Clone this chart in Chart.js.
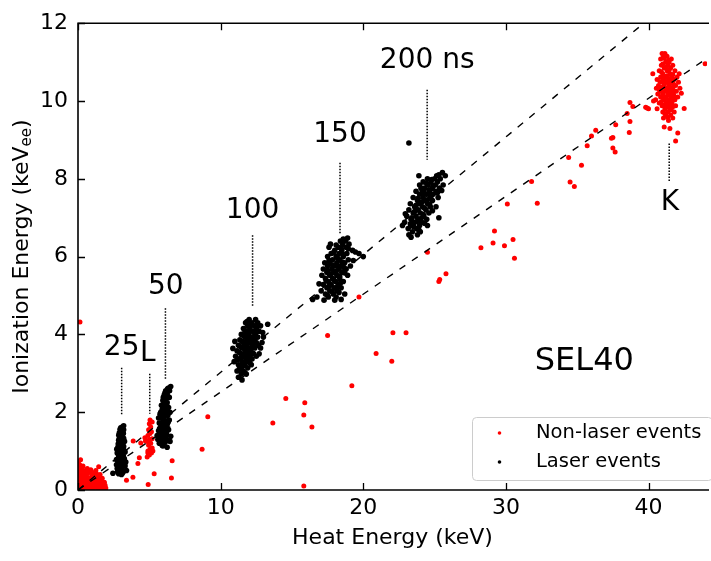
<!DOCTYPE html>
<html>
<head>
<meta charset="utf-8">
<title>SEL40 heat vs ionization</title>
<script src="https://cdn.jsdelivr.net/npm/chart.js@4.4.1/dist/chart.umd.min.js"></script>
<style>
    html, body { margin: 0; padding: 0; background: #fff; }
    #chart { display: block; }
</style>
</head>
<body>
<canvas id="chart" width="711" height="561"></canvas>
<script>
// ===== Data (keV heat, keVee ionization) =====
const xTicks = [0, 10, 20, 30, 40];
const yTicks = [0, 2, 4, 6, 8, 10, 12];

// laser pulses, one cluster per pulse length
const laser25 = [[2.85,0.42],[3.05,0.40],[2.95,0.50],[3.2,0.48],[2.75,0.55],[3.1,0.58],[2.9,0.62],[3.3,0.62],[2.8,0.68],[3.0,0.70],
    [3.15,0.72],[2.7,0.78],[2.95,0.80],[3.25,0.80],[3.05,0.85],[2.85,0.88],[3.15,0.92],[2.75,0.95],[3.0,0.97],[3.3,0.98],
    [2.9,1.03],[3.1,1.05],[2.8,1.10],[3.2,1.12],[3.0,1.15],[2.9,1.20],[3.1,1.22],[2.85,1.28],[3.05,1.30],[3.2,1.33],
    [2.95,1.38],[3.1,1.42],[2.9,1.47],[3.05,1.52],[3.2,1.55],[3.0,1.60],[3.2,1.65],[2.45,0.43],[3.4,0.50],[3.0,0.88],
    [2.92,0.74],[3.08,1.0],[2.98,1.25],[3.12,0.65],[2.88,1.15],[3.02,0.55],[3.18,1.45],[2.82,1.0],[3.22,1.02],
    [2.78,0.47],[3.12,0.44],[2.98,0.60],[3.22,0.68],[2.86,0.76],[3.08,0.78],[2.92,0.92],[3.18,0.86],[2.72,1.05],
    [2.96,1.09],[3.14,1.17],[2.82,1.18],[3.02,1.36],[2.86,1.41],[3.12,1.5],[2.95,1.56],[3.1,1.62],[3.26,1.25],
    [2.7,0.65],[3.35,0.72],[3.02,0.46],[2.9,1.32]];
const laser50 = [[5.7,1.2],[5.9,1.15],[6.1,1.22],[5.6,1.3],[5.85,1.32],[6.05,1.35],[6.3,1.28],[5.75,1.42],[5.95,1.45],[6.2,1.45],
    [5.65,1.52],[5.9,1.55],[6.1,1.58],[6.35,1.55],[5.8,1.62],[6.0,1.67],[6.25,1.68],[5.7,1.72],[5.95,1.76],[6.15,1.78],
    [6.4,1.8],[5.85,1.85],[6.05,1.88],[6.3,1.92],[5.75,1.95],[6.0,1.98],[6.2,2.02],[5.9,2.06],[6.1,2.1],[6.35,2.12],
    [5.85,2.18],[6.05,2.22],[6.25,2.25],[5.95,2.3],[6.15,2.35],[6.4,2.38],[6.05,2.45],[6.25,2.48],[6.15,2.55],[6.35,2.62],
    [6.5,2.66],[5.95,1.13],[6.25,1.1],[6.45,1.25],[6.5,1.38],[5.55,1.4],
    [5.8,1.25],[6.02,1.28],[6.18,1.38],[5.72,1.58],[6.0,1.5],[6.22,1.6],[5.88,1.7],[6.1,1.72],[6.32,1.74],[5.92,1.92],
    [6.15,1.95],[5.8,2.0],[6.02,2.15],[6.22,2.18],[5.98,2.38],[6.3,2.4],[6.1,2.5],[6.42,2.55],[6.28,2.6],[5.65,1.85],
    [6.45,2.0],[5.85,1.45]];
const laser100 = [[12.0,4.38],[12.45,4.38],[11.75,4.3],[12.2,4.3],[12.6,4.3],[11.9,4.22],[12.35,4.22],[12.8,4.22],[13.3,4.26],
    [11.6,4.15],[12.05,4.15],[12.5,4.15],[11.8,4.08],[12.25,4.08],[12.7,4.08],[11.45,4.0],[11.95,4.0],[12.4,4.0],
    [11.7,3.93],[12.15,3.93],[12.6,3.93],[13.0,3.93],[11.35,3.86],[11.85,3.86],[12.3,3.86],[11.6,3.79],[12.05,3.79],
    [12.5,3.79],[12.9,3.79],[11.25,3.72],[11.75,3.72],[12.2,3.72],[11.5,3.65],[11.95,3.65],[12.4,3.65],[12.8,3.65],
    [10.86,3.64],[11.15,3.58],[11.7,3.58],[12.1,3.58],[11.4,3.51],[11.85,3.51],[12.3,3.51],[11.05,3.44],[11.6,3.44],
    [12.05,3.44],[12.5,3.44],[11.3,3.37],[11.8,3.37],[12.2,3.37],[10.95,3.3],[11.5,3.3],[11.95,3.3],[11.25,3.22],
    [11.7,3.22],[12.15,3.22],[11.4,3.14],[11.9,3.14],[11.15,3.06],[11.6,3.06],[11.45,2.98],[11.8,2.98],[11.25,2.9],[11.5,2.83],
    [11.85,4.33],[12.15,4.26],[12.55,4.2],[11.7,4.1],[12.0,4.05],[12.45,4.02],[11.6,3.97],[11.95,3.89],[12.4,3.9],
    [11.5,3.82],[11.85,3.76],[12.3,3.75],[11.4,3.68],[11.75,3.62],[12.15,3.63],[11.3,3.54],[11.65,3.49],[12.0,3.5],
    [11.45,3.4],[11.95,3.41],[11.15,3.34],[11.65,3.28],[12.05,3.27],[11.55,3.18],[11.3,3.1],[11.7,3.02],[12.65,3.72],
    [12.7,3.5],[11.0,3.82],[12.95,4.05]];
const laser150 = [[18.9,6.48],[18.4,6.4],[18.75,6.4],[17.7,6.32],[18.55,6.32],[19.0,6.32],[17.6,6.24],[18.25,6.24],[18.8,6.24],
    [18.0,6.16],[18.5,6.16],[19.25,6.16],[17.75,6.08],[18.3,6.08],[18.85,6.08],[19.7,6.08],[17.5,6.0],[18.1,6.0],[18.6,6.0],
    [20.0,6.0],[17.85,5.92],[18.35,5.92],[18.95,5.92],[17.3,5.84],[17.65,5.84],[18.15,5.84],[18.7,5.84],[17.5,5.76],
    [18.0,5.76],[18.45,5.76],[19.1,5.76],[17.2,5.68],[17.8,5.68],[18.3,5.68],[18.8,5.68],[17.45,5.6],[17.95,5.6],[18.5,5.6],
    [17.1,5.52],[17.65,5.52],[18.15,5.52],[18.9,5.52],[17.35,5.44],[17.85,5.44],[18.35,5.44],[17.55,5.36],[18.05,5.36],
    [18.6,5.36],[17.2,5.28],[17.75,5.28],[18.25,5.28],[17.45,5.2],[17.95,5.2],[18.45,5.2],[17.05,5.12],[17.65,5.12],
    [18.15,5.12],[17.35,5.04],[17.9,5.04],[18.7,5.04],[16.75,4.96],[17.55,4.96],[18.1,4.96],[16.45,4.9],[17.25,4.88],[18.45,4.9],
    [18.6,6.45],[18.1,6.3],[18.45,6.22],[18.95,6.2],[17.9,6.1],[18.6,6.05],[18.2,5.96],[17.6,5.9],[18.5,5.86],[17.85,5.78],
    [18.25,5.74],[18.65,5.72],[17.5,5.64],[18.1,5.62],[18.7,5.58],[17.75,5.56],[18.35,5.5],[17.4,5.38],[17.95,5.4],
    [18.4,5.32],[17.6,5.24],[18.15,5.22],[17.8,5.1],[17.5,5.0],[18.3,5.08],[19.45,6.12],[19.3,5.9],[16.9,5.3],[18.0,4.88]];
const laser200 = [[25.55,8.16],[23.9,8.08],[25.15,8.08],[25.75,8.08],[24.5,8.0],[25.0,8.0],[25.4,8.0],[24.2,7.92],[24.75,7.92],
    [25.2,7.92],[23.95,7.84],[24.55,7.84],[25.05,7.84],[25.6,7.84],[24.3,7.76],[24.85,7.76],[25.35,7.76],[23.7,7.68],
    [24.15,7.68],[24.65,7.68],[25.1,7.68],[23.95,7.6],[24.45,7.6],[24.9,7.6],[23.5,7.52],[24.2,7.52],[24.7,7.52],[25.25,7.52],
    [23.8,7.44],[24.35,7.44],[24.85,7.44],[23.3,7.36],[23.95,7.36],[24.5,7.36],[23.6,7.28],[24.15,7.28],[24.7,7.28],
    [25.1,7.28],[23.2,7.2],[23.85,7.2],[24.4,7.2],[23.5,7.12],[24.0,7.12],[24.6,7.12],[23.05,7.04],[23.7,7.04],[24.25,7.04],
    [25.3,7.0],[23.35,6.96],[23.9,6.96],[24.45,6.96],[22.9,6.88],[23.6,6.88],[24.1,6.88],[22.75,6.8],[23.4,6.8],[23.95,6.8],
    [24.5,6.8],[23.15,6.72],[23.75,6.72],[23.45,6.64],[24.0,6.64],[23.2,6.56],[23.8,6.56],[23.35,6.5],
    [25.3,8.1],[24.8,7.98],[24.45,7.88],[24.9,7.82],[24.05,7.76],[24.6,7.72],[25.2,7.64],[24.3,7.62],[24.75,7.56],
    [23.85,7.5],[24.5,7.46],[24.1,7.4],[24.65,7.34],[23.7,7.32],[24.3,7.24],[24.85,7.18],[23.6,7.16],[24.2,7.08],
    [23.4,7.0],[24.05,6.98],[23.75,6.9],[23.3,6.84],[24.3,6.86],[23.55,6.76],[23.9,6.68],[25.5,7.7],[22.95,7.1]];
const laserStray = [[23.2,8.92]];

// everything that is not a laser pulse
const nonLaserLow = [[0.05,0.02],[0.1,0.15],[0.15,0.3],[0.2,0.05],[0.25,0.45],[0.3,0.2],[0.35,0.1],[0.4,0.35],[0.45,0.05],
    [0.5,0.25],[0.55,0.12],[0.6,0.4],[0.65,0.2],[0.7,0.03],[0.75,0.3],[0.8,0.15],[0.85,0.22],[0.9,0.08],[0.95,0.35],
    [1.0,0.18],[1.05,0.28],[1.1,0.06],[1.15,0.2],[1.2,0.38],[1.25,0.12],[1.3,0.25],[1.35,0.05],[1.4,0.18],[1.45,0.3],
    [1.5,0.1],[1.55,0.22],[1.6,0.04],[1.7,0.15],[1.8,0.08],[1.9,0.12],[0.08,0.55],[0.12,0.65],[0.18,0.78],[0.22,0.6],
    [0.3,0.52],[0.1,0.4],[0.05,0.25],[0.15,0.1],[0.28,0.32],[0.38,0.18],[0.48,0.4],[0.58,0.08],[0.68,0.32],[0.78,0.45],
    [0.9,0.52],[1.02,0.42],[1.25,0.5],[1.45,0.6],[0.2,0.22],[0.42,0.25],[0.62,0.15],[0.88,0.3],[1.12,0.32],[1.35,0.35],
    [0.35,0.62],[0.02,0.7],[0.5,0.48],
    [0.12,0.05],[0.3,0.08],[0.45,0.18],[0.55,0.32],[0.72,0.1],[0.82,0.05],[0.95,0.22],[1.08,0.14],[1.18,0.08],[1.28,0.2],
    [1.42,0.08],[1.52,0.16],[1.62,0.25],[1.75,0.05],[1.85,0.2],[1.95,0.05],[0.25,0.12],[0.4,0.5],[0.6,0.25],[0.7,0.45],
    [1.0,0.05],[1.15,0.45],[1.3,0.42],[0.2,0.38],[0.08,0.32],[0.05,0.48],[0.14,0.58],[0.65,0.55],[1.55,0.4],[1.7,0.3]];
const nonLaserL = [[4.85,0.85],[5.0,0.9],[5.15,0.95],[4.9,1.0],[5.05,1.05],[5.2,1.08],[4.95,1.15],[5.1,1.2],[4.85,1.25],
    [5.0,1.3],[5.2,1.32],[4.9,1.4],[5.05,1.45],[5.15,1.5],[4.95,1.55],[5.1,1.62],[5.0,1.7],[5.2,1.75],[5.05,1.8],[4.9,0.95],
    [5.25,1.0],[3.87,1.26],[4.4,1.21],[4.69,1.34],[4.3,0.83],[4.2,0.68],[3.4,0.25],[3.85,0.33],[4.92,0.14],[5.34,0.42],
    [6.55,0.31],[6.6,0.75],[4.73,1.26]];
const nonLaserScatter = [[0.14,4.32],[8.7,1.05],[9.1,1.88],[13.66,1.72],[14.57,2.35],[15.9,2.24],[15.83,1.93],[16.4,1.62],
    [15.83,0.1],[17.5,3.97],[19.2,2.68],[19.7,4.96],[20.9,3.51],[22.0,3.31],[22.08,4.04],[23.0,4.04],[24.5,6.11],
    [25.3,5.36],[25.36,5.41],[25.8,5.56],[28.25,6.23],[29.1,6.35],[29.2,6.66],[29.9,6.28],[30.5,6.44],[30.6,5.96],
    [30.1,7.35],[31.8,7.93],[32.2,7.37],[34.4,8.55],[34.5,7.92],[34.8,7.8],[35.3,8.35],[35.7,8.85],[36.0,9.1],[36.3,9.25],
    [38.7,9.96],[38.9,9.86],[38.5,9.68],[38.7,9.47],[37.7,9.39],[37.4,9.04],[37.5,9.06],[37.5,8.79],[37.66,8.69],
    [38.65,9.19],[39.9,9.82],[40.0,9.8],[40.3,10.7],[43.97,10.96],[41.9,8.97],[42.05,9.18],[41.1,9.33],[41.5,9.29],
    [42.5,9.81],[39.8,9.84]];
const nonLaserK = [[40.95,11.22],[41.15,11.22],[41.3,11.15],[41.05,11.15],[41.6,11.08],[40.85,11.08],[41.2,11.0],[41.45,11.0],
    [40.9,10.92],[41.35,10.92],[41.7,10.92],[41.1,10.85],[41.55,10.85],[40.75,10.78],[41.3,10.78],[41.85,10.78],[41.0,10.7],
    [41.5,10.7],[40.85,10.62],[41.2,10.62],[41.65,10.62],[42.0,10.62],[40.6,10.55],[41.05,10.55],[41.4,10.55],[41.8,10.55],
    [40.95,10.48],[41.25,10.48],[41.6,10.48],[42.1,10.48],[40.7,10.4],[41.1,10.4],[41.45,10.4],[41.9,10.4],[40.55,10.33],
    [40.9,10.33],[41.3,10.33],[41.7,10.33],[42.2,10.33],[40.8,10.25],[41.15,10.25],[41.5,10.25],[41.95,10.25],[40.65,10.18],
    [41.0,10.18],[41.35,10.18],[41.75,10.18],[40.85,10.1],[41.2,10.1],[41.6,10.1],[42.05,10.1],[40.5,10.03],[41.05,10.03],
    [41.4,10.03],[41.85,10.03],[40.75,9.95],[41.25,9.95],[41.65,9.95],[40.95,9.88],[41.45,9.88],[41.9,9.88],[40.6,9.8],
    [41.15,9.8],[41.6,9.8],[41.0,9.72],[41.35,9.72],[41.8,9.72],[41.2,9.64],[41.55,9.64],[41.05,9.56],[41.7,9.56],[41.4,9.5],
    [41.1,11.1],[41.4,11.05],[41.0,10.95],[41.25,10.88],[41.45,10.8],[40.9,10.75],[41.7,10.68],[41.3,10.65],[41.05,10.6],
    [41.5,10.58],[40.8,10.5],[41.4,10.45],[41.75,10.44],[41.0,10.36],[41.55,10.35],[40.75,10.3],[41.25,10.28],[41.75,10.26],
    [41.0,10.22],[41.6,10.2],[40.95,10.12],[41.45,10.14],[41.8,10.12],[41.15,10.06],[41.6,10.02],[40.9,9.98],[41.45,9.96],
    [41.1,9.9],[41.7,9.85],[41.3,9.84],[41.5,9.76],[41.15,9.68],[41.35,9.58],[40.35,10.0],[42.3,10.2],[42.15,10.7]];

// dashed guide lines
const upperLineX = [0, 40];
const upperLineY = [0, 12.1];
const lowerLineX = [0, 44.1];
const lowerLineY = [0, 11.1];

// labelled pulses: text, line x, text x, text baseline y, dotted line top / bottom
const annoText = ['25', 'L', '50', '100', '150', '200 ns', 'K'];
const annoLineX = [3.06, 5.03, 6.13, 12.24, 18.37, 24.48, 41.45];
const annoTextX = [3.06, 4.9, 6.15, 12.24, 18.37, 24.48, 41.5];
const annoTextY = [3.46, 3.31, 5.05, 7.0, 8.94, 10.84, 7.19];
const annoTop = [3.14, 2.99, 4.67, 6.55, 8.41, 10.29, 8.91];
const annoBottom = [1.93, 1.96, 2.86, 4.72, 6.6, 8.49, 7.91];

// ===== Helpers =====
const toPts = arr => arr.map(p => ({x: p[0], y: p[1]}));
const toLine = (xs, ys) => xs.map((x, i) => ({x: x, y: ys[i]}));
const FONT = 'DejaVu Sans';

// ===== Frame, ticks, annotations, legend =====
const decorPlugin = {
    id: 'decor',
    afterDraw(chart) {
        const ctx = chart.ctx;
        const a = chart.chartArea;
        const xs = chart.scales.x, ys = chart.scales.y;
        ctx.save();

        // spines (right one is cut off in the original)
        ctx.strokeStyle = '#000';
        ctx.lineWidth = 1.6;
        ctx.beginPath();
        ctx.moveTo(a.right + 2, a.top); ctx.lineTo(a.left, a.top);
        ctx.lineTo(a.left, a.bottom); ctx.lineTo(a.right + 2, a.bottom);
        ctx.stroke();

        // inward ticks
        ctx.lineWidth = 1.3;
        ctx.beginPath();
        xTicks.forEach(v => {
            const px = Math.round(xs.getPixelForValue(v)) + 0.5;
            ctx.moveTo(px, a.bottom); ctx.lineTo(px, a.bottom - 7);
            ctx.moveTo(px, a.top); ctx.lineTo(px, a.top + 7);
        });
        yTicks.forEach(v => {
            const py = Math.round(ys.getPixelForValue(v)) + 0.5;
            ctx.moveTo(a.left, py); ctx.lineTo(a.left + 7, py);
        });
        ctx.stroke();

        // dotted markers + labels
        ctx.lineWidth = 1.5;
        ctx.setLineDash([1.5, 1.5]);
        ctx.beginPath();
        annoLineX.forEach((x, i) => {
            const px = xs.getPixelForValue(x);
            ctx.moveTo(px, ys.getPixelForValue(annoTop[i]));
            ctx.lineTo(px, ys.getPixelForValue(annoBottom[i]));
        });
        ctx.stroke();
        ctx.setLineDash([]);
        ctx.fillStyle = '#000';
        ctx.font = '28px "' + FONT + '"';
        ctx.textAlign = 'center';
        ctx.textBaseline = 'alphabetic';
        annoText.forEach((t, i) => {
            ctx.fillText(t, xs.getPixelForValue(annoTextX[i]), ys.getPixelForValue(annoTextY[i]));
        });
        ctx.font = '32px "' + FONT + '"';
        ctx.fillText('SEL40', xs.getPixelForValue(35.5), ys.getPixelForValue(3.08));

        // y title with subscript
        ctx.save();
        ctx.translate(22, (a.top + a.bottom) / 2);
        ctx.rotate(-Math.PI / 2);
        const mainFont = '22px "' + FONT + '"';
        const subFont = '15px "' + FONT + '"';
        ctx.font = mainFont;
        const w1 = ctx.measureText('Ionization Energy (keV').width;
        const w3 = ctx.measureText(')').width;
        ctx.font = subFont;
        const w2 = ctx.measureText('ee').width;
        let x0 = -(w1 + w2 + w3) / 2;
        ctx.textAlign = 'left';
        ctx.textBaseline = 'middle';
        ctx.font = mainFont;
        ctx.fillText('Ionization Energy (keV', x0, 0);
        ctx.font = subFont;
        ctx.fillText('ee', x0 + w1, 5);
        ctx.font = mainFont;
        ctx.fillText(')', x0 + w1 + w2, 0);
        ctx.restore();

        // legend box
        const lx = 472, ly = 417, lw = 240, lh = 63;
        ctx.fillStyle = 'rgba(255,255,255,0.8)';
        ctx.strokeStyle = '#cccccc';
        ctx.lineWidth = 1;
        ctx.beginPath();
        ctx.roundRect(lx + 0.5, ly + 0.5, lw, lh, 4);
        ctx.fill();
        ctx.stroke();
        const rows = [['#ff0000', 'Non-laser events', 433], ['#000000', 'Laser events', 462]];
        ctx.font = '19.5px "' + FONT + '"';
        ctx.textAlign = 'left';
        ctx.textBaseline = 'middle';
        rows.forEach(r => {
            ctx.fillStyle = r[0];
            ctx.beginPath();
            ctx.arc(499.5, r[2], 1.8, 0, Math.PI * 2);
            ctx.fill();
            ctx.fillStyle = '#000';
            ctx.fillText(r[1], 536, r[2]);
        });
        ctx.restore();
    }
};

// ===== Chart =====
Chart.defaults.font.family = FONT;
Chart.defaults.color = '#000';

new Chart(document.getElementById('chart').getContext('2d'), {
    type: 'scatter',
    data: {
        datasets: [
            {type: 'line', data: toLine(upperLineX, upperLineY), borderColor: '#000', borderWidth: 1.4,
                borderDash: [7, 8], pointRadius: 0, fill: false, order: 0},
            {type: 'line', data: toLine(lowerLineX, lowerLineY), borderColor: '#000', borderWidth: 1.4,
                borderDash: [7, 8], pointRadius: 0, fill: false, order: 0},
            {label: 'Laser events',
                data: toPts([].concat(laser25, laser50, laser100, laser150, laser200, laserStray)),
                backgroundColor: '#000', borderWidth: 0, pointRadius: 2.8, order: 1},
            {label: 'Non-laser events',
                data: toPts([].concat(nonLaserLow, nonLaserL, nonLaserScatter, nonLaserK)),
                backgroundColor: '#ff0000', borderWidth: 0, pointRadius: 2.5, order: 2}
        ]
    },
    options: {
        responsive: false,
        animation: false,
        layout: {padding: {top: 12, right: 2, left: 0, bottom: 0}},
        plugins: {legend: {display: false}, tooltip: {enabled: false}},
        scales: {
            x: {
                type: 'linear', min: 0, max: 44.1,
                afterBuildTicks: s => { s.ticks = xTicks.map(v => ({value: v})); },
                afterFit: s => { s.height = 71; },
                grid: {display: false, drawTicks: false},
                border: {display: false},
                ticks: {font: {size: 22}, padding: 5, maxRotation: 0},
                title: {display: true, text: 'Heat Energy (keV)', font: {size: 22}, padding: {top: 0, bottom: 10}}
            },
            y: {
                type: 'linear', min: 0, max: 12,
                afterBuildTicks: s => { s.ticks = yTicks.map(v => ({value: v})); },
                afterFit: s => { s.width = 78; },
                grid: {display: false, drawTicks: false},
                border: {display: false},
                ticks: {font: {size: 22}, padding: 10},
                title: {display: false}
            }
        }
    },
    plugins: [decorPlugin]
});
</script>
</body>
</html>
